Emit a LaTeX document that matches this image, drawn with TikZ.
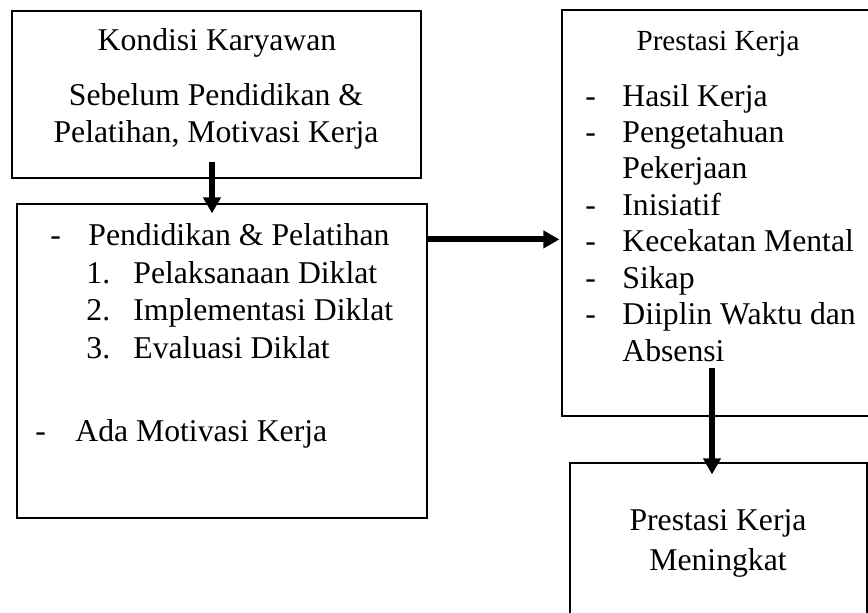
\documentclass[tikz,border=0pt]{standalone}
\usepackage{fontspec}
\setmainfont{Liberation Serif}
\usetikzlibrary{arrows.meta,fit}
\begin{document}
\begin{tikzpicture}
  [x=0.5pt,y=-0.5pt,
   box/.style={draw,line width=0.6pt,inner sep=0pt},
   txt/.style={inner sep=0pt,font=\fontsize{15.85}{19}\selectfont},
   small/.style={inner sep=0pt,font=\fontsize{14.6}{17}\selectfont},
   arr/.style={line width=3pt,-{Triangle[width=8.5pt,length=8pt]}}]
  \useasboundingbox (0,0) rectangle (868,612);
  % boxes
  \node[box,fit={(12,11) (421,178)}] (kondisi) {};
  \node[box,fit={(17,204) (427,518)}] (diklat) {};
  \node[box,fit={(562,10) (874,416)}] (prestasi) {};
  \node[box,fit={(570,463) (867,620)}] (meningkat) {};
  % texts
  \node[txt,anchor=base] (k1) at (217,50) {Kondisi Karyawan};
  \node[txt,anchor=base] (k2) at (216,105) {Sebelum Pendidikan \&};
  \node[txt,anchor=base] (k3) at (216,142) {Pelatihan, Motivasi Kerja};
  \node[txt,anchor=base west] (d0) at (50,245) {-};
  \node[txt,anchor=base west] (d1) at (88,245) {Pendidikan \& Pelatihan};
  \node[txt,anchor=base west] (n1) at (86,283) {1.};
  \node[txt,anchor=base west] (d2) at (133,283) {Pelaksanaan Diklat};
  \node[txt,anchor=base west] (n2) at (86,320) {2.};
  \node[txt,anchor=base west] (d3) at (133,320) {Implementasi Diklat};
  \node[txt,anchor=base west] (n3) at (86,358) {3.};
  \node[txt,anchor=base west] (d4) at (133,358) {Evaluasi Diklat};
  \node[txt,anchor=base west] (m0) at (35,441) {-};
  \node[txt,anchor=base west] (m1) at (75,441) {Ada Motivasi Kerja};
  \node[small,anchor=base] (p0) at (718,50) {Prestasi Kerja};
  \node[txt,anchor=base west] (b1) at (585,106) {-};
  \node[txt,anchor=base west] (p1) at (622,106) {Hasil Kerja};
  \node[txt,anchor=base west] (b2) at (585,142.4) {-};
  \node[txt,anchor=base west] (p2) at (622,142.4) {Pengetahuan};
  \node[txt,anchor=base west] (p3) at (622,178.9) {Pekerjaan};
  \node[txt,anchor=base west] (b4) at (585,215.3) {-};
  \node[txt,anchor=base west] (p4) at (622,215.3) {Inisiatif};
  \node[txt,anchor=base west] (b5) at (585,251.7) {-};
  \node[txt,anchor=base west] (p5) at (622,251.7) {Kecekatan Mental};
  \node[txt,anchor=base west] (b6) at (585,288.1) {-};
  \node[txt,anchor=base west] (p6) at (622,288.1) {Sikap};
  \node[txt,anchor=base west] (b7) at (585,324.6) {-};
  \node[txt,anchor=base west] (p7) at (622,324.6) {Diiplin Waktu dan};
  \node[txt,anchor=base west] (p8) at (622,361) {Absensi};
  \node[txt,anchor=base] (r1) at (718,530) {Prestasi Kerja};
  \node[txt,anchor=base] (r2) at (718,570) {Meningkat};
  % arrows
  \draw[arr] ([shift={(-4.5,-17)}]kondisi.south) -- ([shift={(-10,10)}]diklat.north);
  \draw[arr] ([shift={(0,36)}]diklat.north east) -- ([shift={(-2,230)}]prestasi.north west);
  \draw[arr] ([shift={(-6,-49)}]prestasi.south) -- ([shift={(-6.5,12)}]meningkat.north);
\end{tikzpicture}
\end{document}
